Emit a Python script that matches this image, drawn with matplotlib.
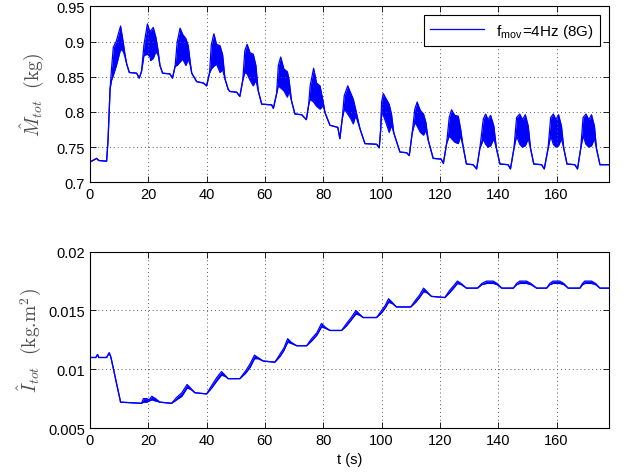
import matplotlib
matplotlib.use("Agg")
import matplotlib.pyplot as plt

# Estimated total mass (lo/hi = envelope of the fast oscillation)
t_m = [0, 1.0, 2.3, 3.0, 5.7, 6.2, 6.9,
       7.4, 8.0, 9.0, 10.5, 11.4, 12.0, 12.6, 13.5, 16.0, 16.9, 17.7,
       18.5, 19.7, 20.6, 20.8, 21.7, 22.6, 23.4, 24.0, 24.9, 27.4, 28.3, 29.2,
       29.9, 30.9, 31.8, 32.9, 33.7, 34.4, 34.9, 36.6, 38.9, 40.0, 41.0,
       41.6, 42.5, 43.4, 44.6, 45.5, 46.3, 47.4, 48.0, 50.3, 51.4, 52.4,
       53.1, 53.9, 54.9, 56.0, 56.9, 57.7, 58.9, 62.3, 62.9, 64.0,
       64.6, 65.4, 66.5, 67.7, 68.3, 69.1, 70.3, 72.6, 74.2, 75.0,
       75.5, 76.7, 77.7, 78.9, 80.0, 80.6, 82.3, 85.0, 85.7, 86.5,
       87.2, 88.4, 89.5, 90.3, 91.1, 92.6, 94.3, 98.3, 99.2, 99.7,
       100.0, 100.6, 101.5, 102.6, 103.4, 104.2, 106.3, 108.6, 109.5, 110.5,
       111.4, 112.2, 113.3, 114.4, 115.2, 116.0, 117.7, 120.4, 121.2, 122.3,
       123.2, 124.0, 125.1, 126.3, 127.1, 128.0, 129.1, 131.4, 132.6, 133.7,
       134.9, 135.7, 136.5, 137.4, 138.5, 139.4, 140.6, 143.4, 144.2, 145.4,
       146.3, 147.4, 148.3, 149.3, 150.3, 151.1, 152.2, 154.9, 155.8, 157.1,
       158.0, 158.9, 159.8, 160.7, 161.7, 162.5, 163.6, 166.3, 167.2, 168.3,
       169.1, 170.1, 171.1, 172.0, 173.0, 173.7, 174.9, 178.0]
m_lo = [0.729, 0.731, 0.734, 0.731, 0.730, 0.760, 0.833,
        0.845, 0.852, 0.865, 0.889, 0.886, 0.878, 0.868, 0.856, 0.855, 0.848, 0.858,
        0.880, 0.882, 0.878, 0.873, 0.876, 0.886, 0.880, 0.866, 0.855, 0.854, 0.848, 0.865,
        0.866, 0.871, 0.875, 0.866, 0.875, 0.866, 0.855, 0.843, 0.841, 0.837, 0.855,
        0.861, 0.865, 0.868, 0.856, 0.860, 0.847, 0.832, 0.829, 0.828, 0.822, 0.845,
        0.856, 0.854, 0.845, 0.837, 0.845, 0.830, 0.811, 0.810, 0.805, 0.826,
        0.837, 0.834, 0.830, 0.821, 0.830, 0.816, 0.797, 0.796, 0.789, 0.810,
        0.818, 0.814, 0.808, 0.804, 0.809, 0.799, 0.781, 0.778, 0.762, 0.790,
        0.804, 0.797, 0.790, 0.783, 0.795, 0.776, 0.755, 0.754, 0.749, 0.775,
        0.800, 0.795, 0.785, 0.771, 0.781, 0.770, 0.743, 0.742, 0.738, 0.770,
        0.785, 0.780, 0.771, 0.767, 0.774, 0.760, 0.734, 0.733, 0.727, 0.755,
        0.766, 0.762, 0.757, 0.755, 0.766, 0.750, 0.726, 0.725, 0.719, 0.748,
        0.761, 0.754, 0.750, 0.752, 0.762, 0.748, 0.726, 0.725, 0.719, 0.748,
        0.766, 0.754, 0.750, 0.752, 0.762, 0.748, 0.726, 0.725, 0.719, 0.748,
        0.766, 0.754, 0.750, 0.752, 0.762, 0.748, 0.726, 0.725, 0.719, 0.748,
        0.766, 0.754, 0.750, 0.752, 0.762, 0.748, 0.725, 0.725]
m_hi = [0.729, 0.731, 0.734, 0.731, 0.730, 0.760, 0.833,
        0.862, 0.892, 0.900, 0.922, 0.899, 0.882, 0.868, 0.856, 0.855, 0.848, 0.858,
        0.895, 0.925, 0.913, 0.915, 0.920, 0.906, 0.886, 0.866, 0.855, 0.854, 0.848, 0.865,
        0.899, 0.919, 0.910, 0.904, 0.894, 0.870, 0.855, 0.843, 0.841, 0.837, 0.855,
        0.895, 0.911, 0.896, 0.894, 0.881, 0.847, 0.832, 0.829, 0.828, 0.822, 0.845,
        0.887, 0.896, 0.884, 0.882, 0.866, 0.830, 0.811, 0.810, 0.805, 0.826,
        0.866, 0.878, 0.861, 0.857, 0.845, 0.816, 0.797, 0.796, 0.789, 0.810,
        0.837, 0.862, 0.841, 0.837, 0.814, 0.799, 0.781, 0.778, 0.762, 0.790,
        0.823, 0.837, 0.826, 0.818, 0.804, 0.776, 0.755, 0.754, 0.749, 0.775,
        0.814, 0.826, 0.819, 0.811, 0.797, 0.770, 0.743, 0.742, 0.738, 0.770,
        0.804, 0.814, 0.802, 0.797, 0.785, 0.760, 0.734, 0.733, 0.727, 0.755,
        0.792, 0.803, 0.795, 0.794, 0.776, 0.750, 0.726, 0.725, 0.719, 0.748,
        0.790, 0.797, 0.789, 0.795, 0.780, 0.748, 0.726, 0.725, 0.719, 0.748,
        0.792, 0.797, 0.789, 0.796, 0.780, 0.748, 0.726, 0.725, 0.719, 0.748,
        0.792, 0.797, 0.789, 0.796, 0.780, 0.748, 0.726, 0.725, 0.719, 0.748,
        0.792, 0.797, 0.789, 0.796, 0.780, 0.748, 0.725, 0.725]

# Estimated total inertia
t_i = [0, 2.0, 2.6, 3.0, 5.7, 6.6, 7.2, 10.5, 17.7,
       18.3, 19.5, 20.3, 21.2, 22.5, 24.0, 28.0,
       29.7, 31.5, 33.3, 34.5, 36.0, 40.0,
       41.7, 43.5, 45.1, 46.3, 47.4, 51.4,
       53.5, 55.0, 56.4, 57.6, 59.4, 63.4,
       65.2, 66.5, 67.8, 69.0, 70.9, 74.3,
       76.0, 77.8, 79.4, 80.6, 82.3, 86.3,
       88.0, 89.6, 91.2, 92.4, 93.7, 98.3,
       100.0, 101.2, 102.4, 103.6, 105.1, 110.0,
       111.7, 113.0, 114.4, 115.6, 117.1, 121.7,
       123.3, 124.7, 126.0, 127.3, 129.1, 132.9,
       134.4, 136.0, 138.3, 139.6, 141.2, 145.2,
       146.3, 147.4, 149.7, 151.2, 153.2, 156.6,
       157.7, 158.8, 161.1, 162.5, 164.0, 168.0,
       168.9, 169.7, 172.0, 173.4, 174.9, 178.0]
i_lo = [0.0110, 0.0110, 0.01125, 0.0110, 0.0110, 0.0114, 0.0110, 0.0072, 0.0071,
        0.0072, 0.0072, 0.0073, 0.0074, 0.0073, 0.0072, 0.0071,
        0.0074, 0.0077, 0.0084, 0.0083, 0.0080, 0.0079,
        0.0084, 0.0090, 0.0095, 0.0094, 0.0092, 0.0092,
        0.0097, 0.0102, 0.0109, 0.0109, 0.0107, 0.0106,
        0.0111, 0.0116, 0.0123, 0.0122, 0.0120, 0.0120,
        0.0124, 0.0129, 0.0136, 0.0135, 0.0133, 0.0133,
        0.0137, 0.0142, 0.0147, 0.0146, 0.0144, 0.0144,
        0.0148, 0.0152, 0.0157, 0.0156, 0.0153, 0.0153,
        0.0157, 0.0161, 0.0166, 0.0165, 0.0162, 0.0161,
        0.0165, 0.0169, 0.0173, 0.0172, 0.0169, 0.0169,
        0.0172, 0.0173, 0.0173, 0.0172, 0.0169, 0.0169,
        0.0172, 0.0173, 0.0173, 0.0172, 0.0169, 0.0169,
        0.0172, 0.0173, 0.0173, 0.0172, 0.0169, 0.0169,
        0.0172, 0.0173, 0.0173, 0.0172, 0.0169, 0.0169]
i_hi = [0.0110, 0.0110, 0.01125, 0.0110, 0.0110, 0.0114, 0.0110, 0.0072, 0.0071,
        0.0075, 0.0075, 0.0074, 0.0077, 0.0075, 0.0072, 0.0071,
        0.0076, 0.0080, 0.0087, 0.0084, 0.0080, 0.0079,
        0.0086, 0.0093, 0.0098, 0.0095, 0.0092, 0.0092,
        0.0099, 0.0105, 0.0112, 0.0110, 0.0107, 0.0106,
        0.0113, 0.0118, 0.0126, 0.0123, 0.0120, 0.0120,
        0.0126, 0.0131, 0.0139, 0.0136, 0.0133, 0.0133,
        0.0139, 0.0144, 0.0150, 0.0147, 0.0144, 0.0144,
        0.0150, 0.0154, 0.0160, 0.0157, 0.0153, 0.0153,
        0.0159, 0.0163, 0.0169, 0.0166, 0.0162, 0.0161,
        0.0167, 0.0171, 0.0175, 0.0173, 0.0169, 0.0169,
        0.0173, 0.0175, 0.0175, 0.0173, 0.0169, 0.0169,
        0.0173, 0.0175, 0.0175, 0.0173, 0.0169, 0.0169,
        0.0173, 0.0175, 0.0175, 0.0173, 0.0169, 0.0169,
        0.0173, 0.0175, 0.0175, 0.0173, 0.0169, 0.0169]

x_ticks = [0, 20, 40, 60, 80, 100, 120, 140, 160]
m_ticks = [0.7, 0.75, 0.8, 0.85, 0.9, 0.95]
m_labels = ["0.7", "0.75", "0.8", "0.85", "0.9", "0.95"]
i_ticks = [0.005, 0.01, 0.015, 0.02]
i_labels = ["0.005", "0.01", "0.015", "0.02"]

plt.rcParams['font.family'] = ['Liberation Sans', 'DejaVu Sans']
plt.rcParams['mathtext.fontset'] = 'cm'

fig = plt.figure(figsize=(6.27, 4.77), dpi=100)
ax1 = fig.add_axes([0.1435, 0.6157, 0.8278, 0.369])
ax2 = fig.add_axes([0.1435, 0.1006, 0.8278, 0.3696])


def style(ax, yticks, ylabels):
    ax.set_xlim(0, 178)
    ax.set_xticks(x_ticks)
    ax.set_yticks(yticks)
    ax.set_yticklabels(ylabels)
    ax.tick_params(direction='in', top=True, right=True, length=4,
                   labelsize=10.5, width=0.6)
    ax.grid(True, linestyle=(0, (1, 3)), color='0.35', linewidth=0.7)
    for sp in ax.spines.values():
        sp.set_linewidth(0.8)


# top panel
ax1.fill_between(t_m, m_lo, m_hi, color='b', linewidth=0)
ax1.plot(t_m, m_lo, color='b', lw=0.9, label=r'f$_{\mathregular{mov}}$=4Hz (8G)')
ax1.plot(t_m, m_hi, color='b', lw=0.9)
ax1.set_ylim(0.7, 0.95)
style(ax1, m_ticks, m_labels)
ax1.set_ylabel(r'$\hat{M}_{tot}\ \ (\mathrm{kg})$', fontsize=14, color='0.3', labelpad=8)
leg = ax1.legend(loc='upper right', fontsize=11, fancybox=False, framealpha=1,
                 edgecolor='black', handlelength=3.5, borderaxespad=0.6)
leg.get_frame().set_linewidth(0.8)

# bottom panel
ax2.fill_between(t_i, i_lo, i_hi, color='b', linewidth=0)
ax2.plot(t_i, i_lo, color='b', lw=0.9)
ax2.plot(t_i, i_hi, color='b', lw=0.9)
ax2.set_ylim(0.005, 0.02)
style(ax2, i_ticks, i_labels)
ax2.set_ylabel(r'$\hat{I}_{tot}\ \ (\mathrm{kg}.\!\mathrm{m}^2)$', fontsize=14, color='0.3')
ax2.set_xlabel('t (s)', fontsize=10.5)

fig.savefig('out.png', dpi=100)
